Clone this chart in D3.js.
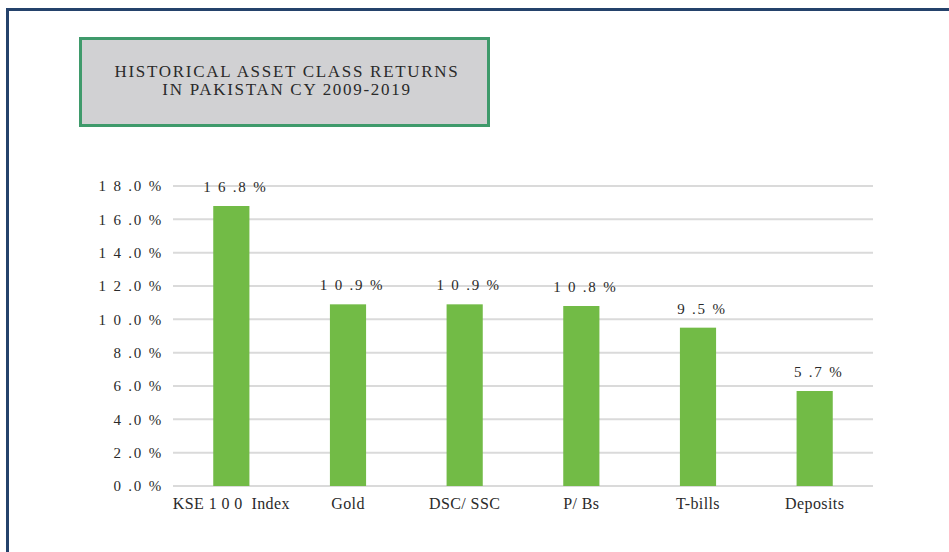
<!DOCTYPE html>
<html>
<head>
<meta charset="utf-8">
<script src="https://cdn.jsdelivr.net/npm/d3@7"></script>
<style>
  body { margin: 0; background: #fff; }
</style>
</head>
<body>
<svg id="chart" width="949" height="552"></svg>
<script>
const categories = ["KSE 1 0 0  Index", "Gold", "DSC/ SSC", "P/ Bs", "T-bills", "Deposits"]
const returns = [16.8, 10.9, 10.9, 10.8, 9.5, 5.7]
const yTicks = [0, 2, 4, 6, 8, 10, 12, 14, 16, 18]
const titleLines = ["HISTORICAL ASSET CLASS RETURNS", "IN PAKISTAN CY 2009-2019"]

const serif = "'Liberation Serif', 'Times New Roman', 'DejaVu Serif', serif"

// "18.0%" -> "1 8 .0 %" like the scanned original
const spaced = (v, digits) => {
  const s = v.toFixed(digits)
  const [a, b] = s.split(".")
  return a.split("").join(" ") + " ." + b + " %"
}

const svg = d3.select("#chart")

// outer frame
svg.append("rect")
  .attr("x", 7.5).attr("y", 9.5)
  .attr("width", 960).attr("height", 560)
  .attr("fill", "none")
  .attr("stroke", "#24426b")
  .attr("stroke-width", 3)

// title box
svg.append("rect")
  .attr("x", 80.5).attr("y", 38.5)
  .attr("width", 408).attr("height", 87)
  .attr("fill", "#d1d1d3")
  .attr("stroke", "#3f9a6b")
  .attr("stroke-width", 3)

svg.append("g")
  .selectAll("text")
  .data(titleLines)
  .join("text")
  .attr("x", 287)
  .attr("y", (d, i) => 77 + i * 18)
  .attr("text-anchor", "middle")
  .attr("fill", "#2a2a2a")
  .style("font-family", serif)
  .style("font-size", "17px")
  .style("letter-spacing", "1.7px")
  .text(d => d)

const margin = { left: 173, right: 76, top: 186, bottom: 66 }
const width = 949, height = 552

const x = d3.scaleBand()
  .domain(categories)
  .range([margin.left, width - margin.right])
  .paddingInner(0.69)
  .paddingOuter(0.345)

const y = d3.scaleLinear()
  .domain([0, 18])
  .range([height - margin.bottom, margin.top])

// gridlines
svg.append("g")
  .attr("stroke", "#dadada")
  .attr("stroke-width", 2)
  .selectAll("line")
  .data(yTicks)
  .join("line")
  .attr("x1", margin.left)
  .attr("x2", width - margin.right)
  .attr("y1", d => y(d))
  .attr("y2", d => y(d))

// y axis labels
const yAxis = d3.axisLeft(y)
  .tickValues(yTicks)
  .tickSize(0)
  .tickPadding(10)
  .tickFormat(d => spaced(d, 1))

svg.append("g")
  .attr("transform", `translate(${margin.left},0)`)
  .call(yAxis)
  .call(g => g.select(".domain").remove())
  .call(g => g.selectAll("text")
    .attr("fill", "#2a2a2a")
    .style("font-family", serif)
    .style("font-size", "15px")
    .style("letter-spacing", "1.8px"))

// x axis labels
const xAxis = d3.axisBottom(x).tickSize(0).tickPadding(12)
svg.append("g")
  .attr("transform", `translate(0,${y(0)})`)
  .call(xAxis)
  .call(g => g.select(".domain").remove())
  .call(g => g.selectAll("text")
    .attr("fill", "#2a2a2a")
    .style("font-family", serif)
    .style("font-size", "16px")
    .style("letter-spacing", "0.4px")
    .style("white-space", "pre"))

// bars
svg.append("g")
  .attr("fill", "#72bb46")
  .selectAll("rect")
  .data(returns)
  .join("rect")
  .attr("x", (d, i) => x(categories[i]))
  .attr("width", x.bandwidth())
  .attr("y", d => y(d))
  .attr("height", d => y(0) - y(d))

// value labels
svg.append("g")
  .selectAll("text")
  .data(returns)
  .join("text")
  .attr("x", (d, i) => x(categories[i]) + x.bandwidth() / 2 + 4)
  .attr("y", d => y(d) - 14)
  .attr("text-anchor", "middle")
  .attr("fill", "#2a2a2a")
  .style("font-family", serif)
  .style("font-size", "15px")
  .style("letter-spacing", "1.8px")
  .text(d => spaced(d, 1))
</script>
</body>
</html>
